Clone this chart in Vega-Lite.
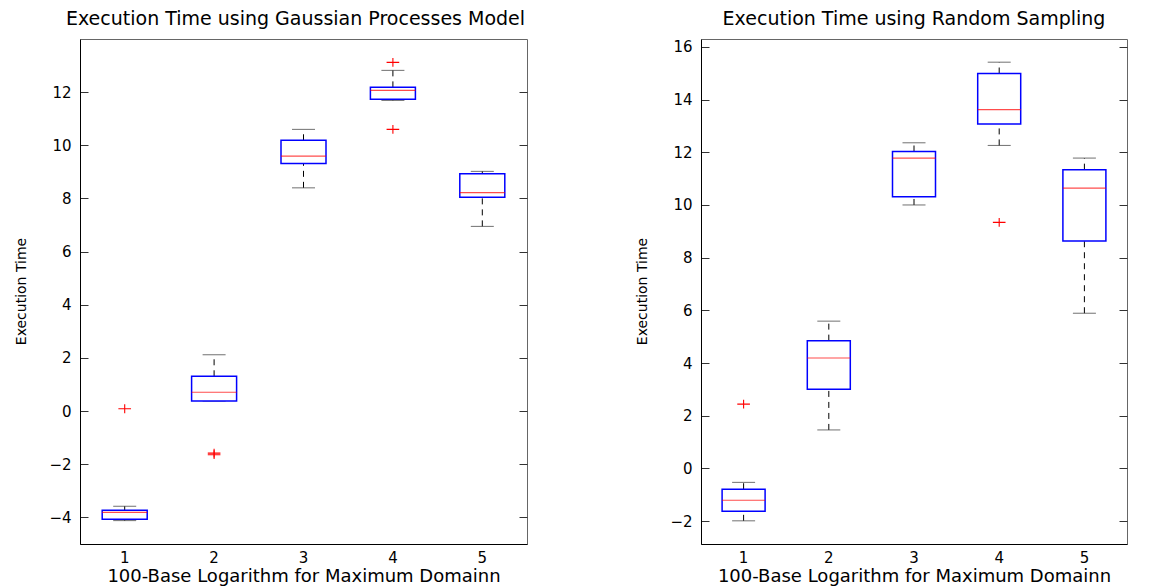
{
  "$schema": "https://vega.github.io/schema/vega-lite/v6.json",
  "background": "white",
  "padding": {"left": 13, "top": 9, "right": 0, "bottom": 0},
  "datasets": {
    "gp": [
      {"pos": "1", "lo": -4.12, "q1": -4.07, "med": -3.81, "q3": -3.73, "hi": -3.58},
      {"pos": "2", "lo": 0.38, "q1": 0.38, "med": 0.71, "q3": 1.31, "hi": 2.12},
      {"pos": "3", "lo": 8.4, "q1": 9.32, "med": 9.59, "q3": 10.19, "hi": 10.6},
      {"pos": "4", "lo": 11.69, "q1": 11.73, "med": 12.07, "q3": 12.18, "hi": 12.82},
      {"pos": "5", "lo": 6.95, "q1": 8.05, "med": 8.22, "q3": 8.93, "hi": 9.02}
    ],
    "gp_out": [
      {"pos": "1", "value": 0.09},
      {"pos": "2", "value": -1.58},
      {"pos": "2", "value": -1.64},
      {"pos": "4", "value": 13.12},
      {"pos": "4", "value": 10.6}
    ],
    "rs": [
      {"pos": "1", "lo": -1.99, "q1": -1.63, "med": -1.21, "q3": -0.79, "hi": -0.53},
      {"pos": "2", "lo": 1.46, "q1": 3.0, "med": 4.19, "q3": 4.85, "hi": 5.59},
      {"pos": "3", "lo": 10.0, "q1": 10.31, "med": 11.78, "q3": 12.03, "hi": 12.36},
      {"pos": "4", "lo": 12.26, "q1": 13.07, "med": 13.62, "q3": 14.99, "hi": 15.42},
      {"pos": "5", "lo": 5.89, "q1": 8.63, "med": 10.64, "q3": 11.34, "hi": 11.78}
    ],
    "rs_out": [
      {"pos": "1", "value": 2.44},
      {"pos": "4", "value": 9.34}
    ]
  },
  "config": {
    "font": "DejaVu Sans",
    "view": {"stroke": "#666666", "strokeWidth": 1},
    "axis": {
      "labelFont": "DejaVu Sans", "titleFont": "DejaVu Sans", "labelColor": "black",
      "titleColor": "black", "domainColor": "black", "tickColor": "#333333",
      "grid": false, "titleFontWeight": "normal", "labelFontSize": 15
    },
    "title": {"font": "DejaVu Sans", "fontSize": 19, "fontWeight": "normal", "color": "black"}
  },
  "bounds": "flush",
  "spacing": 174,
  "hconcat": [
    {
      "width": 447, "height": 505,
      "title": {"text": "Execution Time using Gaussian Processes Model", "offset": 10, "dx": -8},
      "resolve": {"axis": {"y": "independent"}},
      "layer": [
        {
          "data": {"name": "gp"},
          "mark": {"type": "rule", "color": "black", "strokeDash": [6, 5], "strokeWidth": 1},
          "encoding": {
            "x": {"field": "pos", "type": "ordinal", "scale": {"type": "band", "paddingInner": 0, "paddingOuter": 0, "domain": ["1","2","3","4","5"]},
                  "axis": {"title": "100-Base Logarithm for Maximum Domainn", "labelAngle": 0, "ticks": false, "labelPadding": 6, "titleFontSize": 18, "titlePadding": 2, "domainColor": "black"}},
            "y": {"field": "lo", "type": "quantitative", "scale": {"domain": [-5, 14], "nice": false, "zero": false},
                  "axis": {"orient": "left", "title": "Execution Time", "titleFontSize": 14, "tickSize": -8, "labelPadding": 17, "values": [-4,-2,0,2,4,6,8,10,12], "titleX": -52, "titleY": 252}},
            "y2": {"field": "q1"}
          }
        },
        {
          "data": {"name": "gp"},
          "mark": {"type": "rule", "color": "black", "strokeDash": [6, 5], "strokeWidth": 1},
          "encoding": {
            "x": {"field": "pos", "type": "ordinal"},
            "y": {"field": "q3", "type": "quantitative",
                  "axis": {"orient": "right", "labels": false, "title": null, "tickSize": -8, "values": [-4,-2,0,2,4,6,8,10,12], "domain": false}},
            "y2": {"field": "hi"}
          }
        },
        {
          "data": {"name": "gp"},
          "mark": {"type": "tick", "color": "#333333", "size": 23, "thickness": 1},
          "encoding": {
            "x": {"field": "pos", "type": "ordinal"},
            "y": {"field": "lo", "type": "quantitative", "axis": null}
          }
        },
        {
          "data": {"name": "gp"},
          "mark": {"type": "tick", "color": "#333333", "size": 23, "thickness": 1},
          "encoding": {
            "x": {"field": "pos", "type": "ordinal"},
            "y": {"field": "hi", "type": "quantitative", "axis": null}
          }
        },
        {
          "data": {"name": "gp"},
          "mark": {"type": "bar", "fill": "white", "stroke": "#0000ff", "strokeWidth": 1.5, "size": 45},
          "encoding": {
            "x": {"field": "pos", "type": "ordinal"},
            "y": {"field": "q1", "type": "quantitative", "axis": null},
            "y2": {"field": "q3"}
          }
        },
        {
          "data": {"name": "gp"},
          "mark": {"type": "tick", "color": "#ff0000", "size": 45, "thickness": 1.2},
          "encoding": {
            "x": {"field": "pos", "type": "ordinal"},
            "y": {"field": "med", "type": "quantitative", "axis": null}
          }
        },
        {
          "data": {"name": "gp_out"},
          "mark": {"type": "point", "shape": "M-1,0L1,0M0,-0.7L0,0.7", "size": 160, "filled": false, "stroke": "#ff0000", "strokeWidth": 1.1, "opacity": 1},
          "encoding": {
            "x": {"field": "pos", "type": "ordinal"},
            "y": {"field": "value", "type": "quantitative", "axis": null}
          }
        }
      ]
    },
    {
      "width": 426, "height": 505,
      "title": {"text": "Execution Time using Random Sampling", "offset": 10},
      "resolve": {"axis": {"y": "independent"}},
      "layer": [
        {
          "data": {"name": "rs"},
          "mark": {"type": "rule", "color": "black", "strokeDash": [6, 5], "strokeWidth": 1},
          "encoding": {
            "x": {"field": "pos", "type": "ordinal", "scale": {"type": "band", "paddingInner": 0, "paddingOuter": 0, "domain": ["1","2","3","4","5"]},
                  "axis": {"title": "100-Base Logarithm for Maximum Domainn", "labelAngle": 0, "ticks": false, "labelPadding": 6, "titleFontSize": 18, "titlePadding": 2}},
            "y": {"field": "lo", "type": "quantitative", "scale": {"domain": [-2.87, 16.3], "nice": false, "zero": false},
                  "axis": {"orient": "left", "title": "Execution Time", "titleFontSize": 14, "tickSize": -8, "labelPadding": 17, "values": [-2,0,2,4,6,8,10,12,14,16], "titleX": -52, "titleY": 252}},
            "y2": {"field": "q1"}
          }
        },
        {
          "data": {"name": "rs"},
          "mark": {"type": "rule", "color": "black", "strokeDash": [6, 5], "strokeWidth": 1},
          "encoding": {
            "x": {"field": "pos", "type": "ordinal"},
            "y": {"field": "q3", "type": "quantitative",
                  "axis": {"orient": "right", "labels": false, "title": null, "tickSize": -8, "values": [-2,0,2,4,6,8,10,12,14,16], "domain": false}},
            "y2": {"field": "hi"}
          }
        },
        {
          "data": {"name": "rs"},
          "mark": {"type": "tick", "color": "#333333", "size": 23, "thickness": 1},
          "encoding": {
            "x": {"field": "pos", "type": "ordinal"},
            "y": {"field": "lo", "type": "quantitative", "axis": null}
          }
        },
        {
          "data": {"name": "rs"},
          "mark": {"type": "tick", "color": "#333333", "size": 23, "thickness": 1},
          "encoding": {
            "x": {"field": "pos", "type": "ordinal"},
            "y": {"field": "hi", "type": "quantitative", "axis": null}
          }
        },
        {
          "data": {"name": "rs"},
          "mark": {"type": "bar", "fill": "white", "stroke": "#0000ff", "strokeWidth": 1.5, "size": 43},
          "encoding": {
            "x": {"field": "pos", "type": "ordinal"},
            "y": {"field": "q1", "type": "quantitative", "axis": null},
            "y2": {"field": "q3"}
          }
        },
        {
          "data": {"name": "rs"},
          "mark": {"type": "tick", "color": "#ff0000", "size": 43, "thickness": 1.2},
          "encoding": {
            "x": {"field": "pos", "type": "ordinal"},
            "y": {"field": "med", "type": "quantitative", "axis": null}
          }
        },
        {
          "data": {"name": "rs_out"},
          "mark": {"type": "point", "shape": "M-1,0L1,0M0,-0.7L0,0.7", "size": 160, "filled": false, "stroke": "#ff0000", "strokeWidth": 1.1, "opacity": 1},
          "encoding": {
            "x": {"field": "pos", "type": "ordinal"},
            "y": {"field": "value", "type": "quantitative", "axis": null}
          }
        }
      ]
    }
  ]
}
